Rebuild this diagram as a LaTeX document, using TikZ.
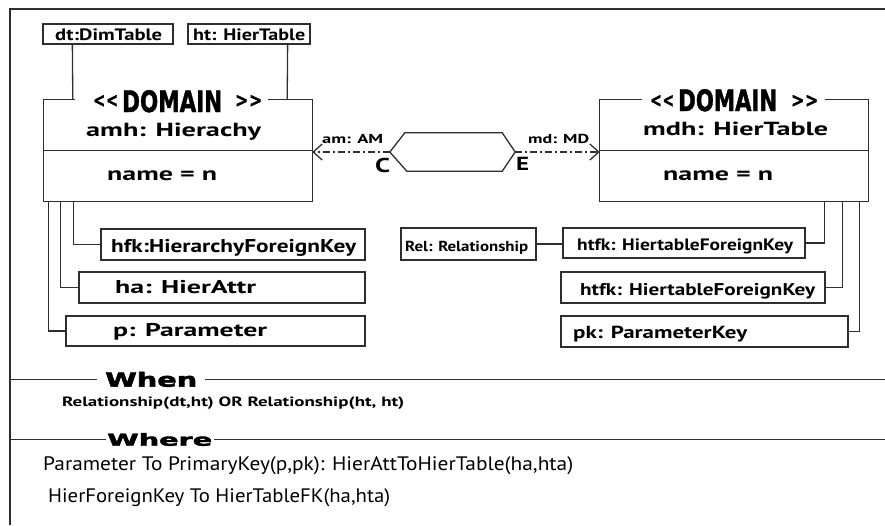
\documentclass[tikz,border=0pt]{standalone}
\usepackage{fontspec}
\setmainfont{PT Sans}
\newfontfamily\headfont{DejaVu Sans}[BoldFeatures={FakeBold=2.2}]
\newfontfamily\domfont{DejaVu Sans Condensed}[BoldFeatures={FakeBold=1.5}]
\usetikzlibrary{arrows.meta,calc}

% text of a given width (pt) at a given size (pt)
\newcommand{\fitw}[3]{\resizebox{#1pt}{\height}{\fontsize{#2pt}{#2pt}\selectfont #3}}

\tikzset{
  ln/.style={line width=1.3pt, draw=black!82},
  lbl/.style={inner sep=0pt, anchor=base west, font=\bfseries},
  box/.style={ln, rectangle, inner sep=0pt},
  relline/.style={ln, dash pattern=on 7pt off 3pt on 2pt off 3pt,
    -{Straight Barb[length=9pt,width=16pt,line width=1.3pt]}},
}

\begin{document}
\begin{tikzpicture}[x=1pt,y=-1pt]
\useasboundingbox (0,0) rectangle (885,525);

% outer frame
\coordinate (fl) at (10,0);
\coordinate (fr) at (885,0);
\draw[ln] (10,525) -- (10,9) -- (885,9);

% ---- tables on top
\node[box, minimum width=130pt, minimum height=20pt] (dt) at (108,34) {};
\node[lbl] (dtT) at (55,40.5) {\fitw{107}{16.5}{dt:DimTable}};
\node[box, minimum width=122pt, minimum height=20pt] (ht) at (249,34) {};
\node[lbl] (htT) at (193,40.5) {\fitw{112}{16.5}{ht: HierTable}};

% ---- left domain
\node[minimum width=268pt, minimum height=101pt, inner sep=0pt] (amh) at (178,150.5) {};
\draw[ln] ($(amh.north west)+(31,0)$) -- (amh.north west) -- (amh.south west)
  -- (amh.south east) -- (amh.north east) -- ($(amh.north east)+(-44,0)$);
\draw[ln] (amh.west) -- (amh.east);
\node[inner sep=0pt, anchor=west, font=\domfont\bfseries] (amhDl) at (93,101) {\fitw{25}{20}{<\kern1pt<}};
\node[inner sep=0pt, anchor=base west] (amhD) at (122,112) {\domfont\bfseries\fitw{100}{29.5}{DOMAIN}};
\node[inner sep=0pt, anchor=west, font=\domfont\bfseries] (amhDr) at (235,101) {\fitw{27}{20}{>\kern1pt>}};
\node[lbl] (amhN) at (86,136) {\fitw{175}{19}{amh: Hierachy}};
\node[lbl] (amhA) at (107,180) {\fitw{110}{19}{name = n}};

\draw[ln] ($(dt.south west)+(30,0)$) -- ($(amh.north west)+(29,0)$);
\draw[ln] ($(ht.south east)+(-23,0)$) -- ($(amh.north east)+(-25,0)$);

% ---- right domain
\node[minimum width=268pt, minimum height=101pt, inner sep=0pt] (mdh) at (734,150.5) {};
\draw[ln] ($(mdh.north west)+(42,0)$) -- (mdh.north west) -- (mdh.south west)
  -- (mdh.south east) -- (mdh.north east) -- ($(mdh.north east)+(-43,0)$);
\draw[ln] (mdh.west) -- (mdh.east);
\node[inner sep=0pt, anchor=west, font=\domfont\bfseries] (mdhDl) at (650,101) {\fitw{24}{20}{<\kern1pt<}};
\node[inner sep=0pt, anchor=base west] (mdhD) at (678,111) {\domfont\bfseries\fitw{99}{29.5}{DOMAIN}};
\node[inner sep=0pt, anchor=west, font=\domfont\bfseries] (mdhDr) at (791,101) {\fitw{27}{20}{>\kern1pt>}};
\node[lbl] (mdhN) at (643,135) {\fitw{185}{19}{mdh: HierTable}};
\node[lbl] (mdhA) at (663,180.5) {\fitw{110}{19}{name = n}};

% ---- relationship between the domains
\node[minimum width=125pt, minimum height=38pt, inner sep=0pt] (rel) at (452.5,152) {};
\draw[ln] (rel.west) -- ($(rel.north west)+(15,0)$) -- ($(rel.north east)+(-13,0)$)
  -- (rel.east) -- ($(rel.south east)+(-13,0)$) -- ($(rel.south west)+(17,0)$) -- cycle;
\draw[relline] (rel.west) -- (rel.west -| amh.east);
\draw[relline] (rel.east) -- (rel.east -| mdh.west);
\node[lbl] (amL) at (322,143) {\fitw{61}{13}{am: AM}};
\node[lbl] (mdL) at (528,143) {\fitw{61}{13}{md: MD}};
\node[lbl] (cL) at (375,172) {\fitw{15}{20}{C}};
\node[lbl] (eL) at (516,170) {\fitw{13}{19}{E}};

% ---- parts of the left domain
\node[box, minimum width=264pt, minimum height=31pt] (hfk) at (233,244.5) {};
\node[lbl] (hfkT) at (111,252) {\fitw{245}{18.5}{hfk:HierarchyForeignKey}};
\node[box, minimum width=286pt, minimum height=31pt] (ha) at (222,287.5) {};
\node[lbl] (haT) at (115,293) {\fitw{141}{18.5}{ha: HierAttr}};
\node[box, minimum width=299pt, minimum height=30pt] (p) at (215.5,331) {};
\node[lbl] (pT) at (113,336) {\fitw{154}{18.5}{p: Parameter}};
\draw[ln] ($(amh.south west)+(30,0)$) |- (hfk.west);
\draw[ln] ($(amh.south west)+(17,0)$) |- (ha.west);
\draw[ln] ($(amh.south west)+(5,0)$) |- (p.west);

% ---- parts of the right domain
\node[box, minimum width=135pt, minimum height=32pt] (relbox) at (468.5,244) {};
\node[lbl] (relT) at (405,251) {\fitw{123}{14.5}{Rel: Relationship}};
\node[box, minimum width=242pt, minimum height=30pt] (htfkA) at (684,243) {};
\node[lbl] (htfkAT) at (577,250) {\fitw{216}{16.5}{htfk: HiertableForeignKey}};
\node[box, minimum width=264pt, minimum height=31pt] (htfkB) at (693,287.5) {};
\node[lbl] (htfkBT) at (580,295) {\fitw{235}{17}{htfk: HiertableForeignKey}};
\node[box, minimum width=287pt, minimum height=31pt] (pk) at (704.5,331.5) {};
\node[lbl] (pkT) at (573,338) {\fitw{174}{17.5}{pk: ParameterKey}};
\draw[ln] (relbox.east) -- (relbox.east -| htfkA.west);
\draw[ln] (htfkA.east) -| ($(mdh.south east)+(-44,0)$);
\draw[ln] (htfkB.east) -| ($(mdh.south east)+(-26,0)$);
\draw[ln] (pk.east) -| ($(mdh.south east)+(-9,0)$);

% ---- conditions
\node[inner xsep=8pt, inner ysep=0pt, anchor=base west] (when) at (97,386.7) {\headfont\bfseries\fitw{92}{19.5}{When}};
\draw[ln] (fl |- when.west) -- (when.west);
\draw[ln] (when.east) -- (fr |- when.east);
\node[lbl] (whenT) at (62,406.7) {\fitw{342}{13.5}{Relationship(dt,ht) OR Relationship(ht, ht)}};

\node[inner xsep=1.5pt, inner ysep=0pt, anchor=base west] (where) at (105.5,445.7) {\headfont\bfseries\fitw{105}{16.5}{Where}};
\draw[ln] (fl |- where.west) -- (where.west);
\draw[ln] (where.east) -- (fr |- where.east);
\node[lbl, font=\mdseries] (whereA) at (43,470) {\fitw{530}{19.5}{Parameter To PrimaryKey(p,pk): HierAttToHierTable(ha,hta)}};
\node[lbl, font=\mdseries] (whereB) at (48,502) {\fitw{342}{19.5}{HierForeignKey To HierTableFK(ha,hta)}};
\end{tikzpicture}
\end{document}
